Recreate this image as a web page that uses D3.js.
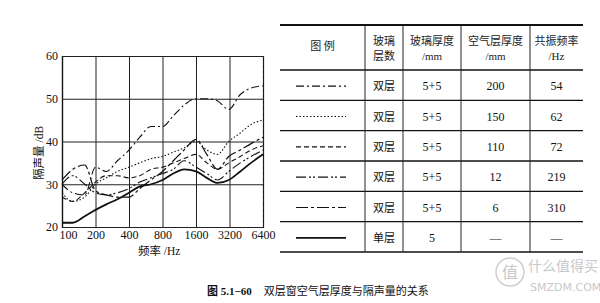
<!DOCTYPE html>
<html>
<head>
<meta charset="utf-8">
<script src="https://cdn.jsdelivr.net/npm/d3@7"></script>
<style>
  body { margin: 0; background: #fff; }
  svg { display: block; }
</style>
</head>
<body>
<div id="chart"></div>
<script>
// frequencies (Hz) and sound reduction (dB)
const freqs   = [100, 125, 160, 200, 250, 315, 400, 500, 630, 800, 1000, 1250, 1600, 2000, 2500, 3150, 4000, 5000, 6400];
const gap200  = [30, 28, 27.5, 34, 33, 35.5, 38, 41, 43.5, 43.5, 46, 48.5, 50, 50, 49.5, 47.5, 51, 52.5, 53];
const gap150  = [28, 26, 27, 30, 31.5, 33, 34, 35, 36, 36.5, 37.5, 38.5, 40, 38, 37, 40, 42, 44, 45];
const gap110  = [27, 26, 28, 30.5, 32, 32, 31.5, 32, 33.5, 34, 35, 36, 37, 35, 33.5, 35, 36.5, 38, 39];
const gap12   = [30, 32, 30, 28, 27.5, 28, 29, 30.5, 31.5, 32.5, 33.5, 35.5, 34, 32.5, 31, 33, 35, 36.5, 38];
const gap6    = [31, 33.5, 34.5, 28.5, 27.5, 27, 27, 29, 31, 33, 35.5, 38, 40.5, 37, 33.5, 36.5, 38, 39.5, 41];
const single  = [21, 21, 22.5, 24, 25.3, 26.5, 28, 29.5, 30, 31, 32.5, 33.5, 33, 31.5, 30.3, 31, 33, 35, 37];

const xTicks = [100, 200, 400, 800, 1600, 3200, 6400];
const yTicks = [20, 30, 40, 50, 60];

// table contents
const tableHeader = [["图    例"], ["玻璃", "层数"], ["玻璃厚度", "/mm"], ["空气层厚度", "/mm"], ["共振频率", "/Hz"]];
const layerNames  = ["双层", "双层", "双层", "双层", "双层", "单层"];
const glassThick  = ["5+5", "5+5", "5+5", "5+5", "5+5", "5"];
const airGap      = ["200", "150", "110", "12", "6", "—"];
const resonance   = ["54", "62", "72", "219", "310", "—"];

const seriesValues = [gap200, gap150, gap110, gap12, gap6, single];
const dashes = ["8,3,2,3", "1.5,2", "5,3", "10,3,2,2,2,3", "12,3,3,3", null];
const widths = [1.1, 1.1, 1.1, 1.1, 1.2, 1.8];

const serif = "'Liberation Serif','DejaVu Serif','Noto Sans CJK SC',serif";
const cjk = "'Noto Sans CJK SC',sans-serif";

const svg = d3.select("#chart").append("svg")
  .attr("width", 600)
  .attr("height", 303);

const plot = { left: 62, right: 263, top: 56, bottom: 227 };

const x = d3.scaleLog().domain([100, 6400]).range([plot.left, plot.right]);
const y = d3.scaleLinear().domain([20, 60]).range([plot.bottom, plot.top]);

// grid + x axis
const gx = svg.append("g")
  .attr("transform", `translate(0, ${plot.bottom})`)
  .call(d3.axisBottom(x).tickValues(xTicks).tickFormat(d => d)
    .tickSize(-(plot.bottom - plot.top)).tickPadding(3));
gx.select(".domain").attr("stroke", "#111").attr("stroke-width", 1.2);
gx.selectAll(".tick line").attr("stroke", "#222").attr("stroke-width", 1);
gx.selectAll(".tick").filter(d => d === 6400).select("line").attr("stroke-dasharray", "4,2");
gx.selectAll(".tick text")
  .style("font-family", serif).style("font-size", "12px").attr("fill", "#111")
  .attr("dx", d => d === 100 ? 6 : 0);

// grid + y axis
const gy = svg.append("g")
  .attr("transform", `translate(${plot.left}, 0)`)
  .call(d3.axisLeft(y).tickValues(yTicks)
    .tickSize(-(plot.right - plot.left)).tickPadding(4));
gy.select(".domain").attr("stroke", "#111").attr("stroke-width", 1.2);
gy.selectAll(".tick line").attr("stroke", "#222").attr("stroke-width", 1);
gy.selectAll(".tick text")
  .style("font-family", serif).style("font-size", "12px").attr("fill", "#111");

// axis titles
svg.append("text")
  .attr("x", (x(800) + x(1600)) / 2 - 20)
  .attr("y", 255)
  .attr("text-anchor", "middle")
  .style("font-family", serif).style("font-size", "11.5px").attr("fill", "#111")
  .text("频率 /Hz");

svg.append("text")
  .attr("transform", `translate(43, ${(y(40) + y(30)) / 2 - 10}) rotate(-90)`)
  .attr("text-anchor", "middle")
  .style("font-family", serif).style("font-size", "11.5px").attr("fill", "#111")
  .text("隔声量 /dB");

// curves
const line = d3.line()
  .x((d, i) => x(freqs[i]))
  .y(d => y(d))
  .curve(d3.curveMonotoneX);

svg.append("g").selectAll("path")
  .data(seriesValues)
  .enter().append("path")
  .attr("d", d => line(d))
  .attr("fill", "none")
  .attr("stroke", "#111")
  .attr("stroke-width", (d, i) => widths[i])
  .attr("stroke-dasharray", (d, i) => dashes[i]);

// ---- table ----
const cols = [280, 365, 403, 461, 530, 583];
const headTop = 25, headBottom = 70, tableBottom = 252;
const rowY = d3.scaleBand().domain(d3.range(layerNames.length)).range([headBottom, tableBottom]);

const table = svg.append("g");

// horizontal rules
const rules = [headTop, headBottom].concat(d3.range(1, layerNames.length + 1).map(i => headBottom + i * rowY.bandwidth()));
table.selectAll("line.h")
  .data(rules)
  .enter().append("line")
  .attr("class", "h")
  .attr("x1", cols[0]).attr("x2", cols[cols.length - 1])
  .attr("y1", d => d).attr("y2", d => d)
  .attr("stroke", "#111")
  .attr("stroke-width", (d, i) => i === 0 ? 2 : 1.3);

// vertical rules
table.selectAll("line.v")
  .data(cols.slice(1, -1))
  .enter().append("line")
  .attr("class", "v")
  .attr("x1", d => d).attr("x2", d => d)
  .attr("y1", headTop).attr("y2", tableBottom)
  .attr("stroke", "#222")
  .attr("stroke-width", 1);

const colMid = i => (cols[i] + cols[i + 1]) / 2;

// header
tableHeader.forEach((lines, c) => {
  const t = table.append("text")
    .attr("text-anchor", "middle")
    .style("font-family", serif).style("font-size", "11px").attr("fill", "#222");
  if (lines.length === 1) {
    t.append("tspan").attr("x", colMid(c)).attr("y", 50).text(lines[0]);
  } else {
    t.append("tspan").attr("x", colMid(c)).attr("y", 45).text(lines[0]);
    t.append("tspan").attr("x", colMid(c)).attr("y", 60).text(lines[1]);
  }
});

// legend samples
table.selectAll("line.leg")
  .data(seriesValues)
  .enter().append("line")
  .attr("class", "leg")
  .attr("x1", 296).attr("x2", 346)
  .attr("y1", (d, i) => rowY(i) + rowY.bandwidth() / 2 + 1)
  .attr("y2", (d, i) => rowY(i) + rowY.bandwidth() / 2 + 1)
  .attr("stroke", "#111")
  .attr("stroke-width", (d, i) => widths[i])
  .attr("stroke-dasharray", (d, i) => dashes[i]);

// body cells
[layerNames, glassThick, airGap, resonance].forEach((colData, k) => {
  table.selectAll(null)
    .data(colData)
    .enter().append("text")
    .attr("x", colMid(k + 1))
    .attr("y", (d, i) => rowY(i) + rowY.bandwidth() / 2 + 5)
    .attr("text-anchor", "middle")
    .style("font-family", serif)
    .style("font-size", k === 0 ? "11px" : "12px")
    .attr("fill", "#111")
    .text(d => d);
});

// caption
const cap = svg.append("text")
  .attr("x", 207).attr("y", 295)
  .style("font-family", serif).style("font-size", "11px").attr("fill", "#111");
cap.append("tspan").style("font-weight", "bold").text("图 5.1−60");
cap.append("tspan").attr("dx", 12).text("双层窗空气层厚度与隔声量的关系");

// watermark
const wm = svg.append("g").attr("fill", "#c8c8c8").style("font-family", cjk);
wm.append("circle").attr("cx", 510).attr("cy", 272).attr("r", 14)
  .attr("fill", "none").attr("stroke", "#cfcfcf").attr("stroke-width", 1.5);
wm.append("text").attr("x", 510).attr("y", 278).attr("text-anchor", "middle")
  .style("font-size", "16px").text("值");
wm.append("text").attr("x", 528).attr("y", 271)
  .style("font-size", "14px").text("什么值得买");
wm.append("text").attr("x", 530).attr("y", 291)
  .style("font-size", "11px").style("font-family", "'DejaVu Sans',sans-serif").text("SMZDM.COM");
</script>
</body>
</html>
